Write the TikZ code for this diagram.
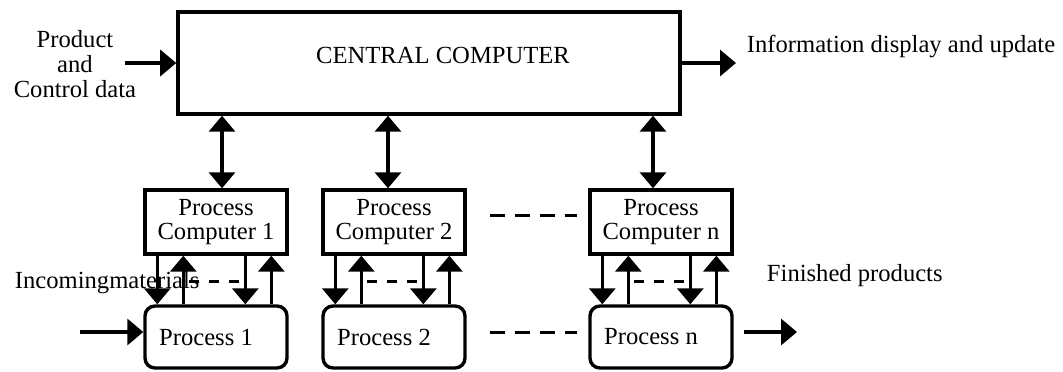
\documentclass[tikz,border=0pt]{standalone}
\usepackage{fontspec}
\setmainfont{Liberation Serif}
\usetikzlibrary{arrows.meta,positioning}

\begin{document}
\begin{tikzpicture}[
  x=0.025cm, y=-0.025cm,
  font=\fontsize{17.5}{17.5}\selectfont,
  box/.style={draw, line width=2.4pt, inner sep=0pt, minimum width=3.55cm, minimum height=1.6cm},
  proc/.style={box, rounded corners=0.25cm, minimum height=1.55cm},
  arr/.style={-{Triangle[length=0.4cm, width=0.65cm]}, line width=2.4pt},
  dbl/.style={{Triangle[length=0.4cm, width=0.65cm]}-{Triangle[length=0.4cm, width=0.65cm]}, line width=2.4pt},
  dashes/.style={line width=2.4pt, dash pattern=on 0.375cm off 0.25cm},
  shortdash/.style={line width=2.4pt, dash pattern=on 0.25cm off 0.25cm, dash phase=-0.15cm}
]
\useasboundingbox (0,0) rectangle (1063,371);

% central computer
\node[box, minimum width=12.55cm, minimum height=2.55cm,
  label={[xshift=0.35cm, yshift=0.2cm]center:CENTRAL COMPUTER}] (cc) at (429,63) {};

% process computers and processes
\foreach \n/\x in {1/216, 2/394, n/661} {
  \node[box, align=center] (pc\n) at (\x,222) {Process\\Computer \n};
  \node[proc, label={[xshift=-0.25cm]center:Process \n}] (p\n) at (\x,337) {};
}

% side texts
\node[align=center] (src) at (75,64) {Product\\and\\Control data};
\node[anchor=base west] (info) at (742,52) {Information display and update};
\node[anchor=base west] (mat) at (10,288) {Incomingmaterials};
\node[anchor=base west] (fin) at (762,281) {Finished products};

\coordinate (in1) at (125,63);
\coordinate (out1) at (736,63);
\coordinate (in2) at (80,332);
\coordinate (out2) at (797,332);

\draw[arr] (in1) -- (in1 -| cc.west);
\draw[arr] (cc.east |- out1) -- (out1);
\draw[arr] (in2) -- (in2 -| p1.west);
\draw[arr, shorten <=0.25cm] (pn.east |- out2) -- (out2);

% links to the central computer
\foreach \n/\s in {1/0.15, 2/-0.15, n/-0.2} {
  \path ([xshift=\s cm]pc\n.north) coordinate (t\n);
  \draw[dbl] (t\n) -- (t\n |- cc.south);
}

% signals between each process computer and its process
\foreach \n in {1,2,n} {
  \draw[arr] ([xshift=0.35cm]pc\n.south west) -- ([xshift=0.35cm]p\n.north west);
  \draw[arr] ([xshift=1cm]p\n.north west) -- ([xshift=1cm]pc\n.south west);
  \draw[arr] ([xshift=2.55cm]pc\n.south west) -- ([xshift=2.55cm]p\n.north west);
  \draw[arr] ([xshift=3.2cm]p\n.north west) -- ([xshift=3.2cm]pc\n.south west);
  \draw[shortdash] ([xshift=1cm, yshift=-0.65cm]pc\n.south west) -- ([xshift=2.55cm, yshift=-0.65cm]pc\n.south west);
}

\draw[dashes] ([xshift=0.575cm, yshift=0.17cm]pc2.east) -- ([xshift=-0.275cm, yshift=0.17cm]pcn.west);
\draw[dashes] ([xshift=0.575cm, yshift=0.12cm]p2.east) -- ([xshift=-0.275cm, yshift=0.12cm]pn.west);
\end{tikzpicture}
\end{document}
